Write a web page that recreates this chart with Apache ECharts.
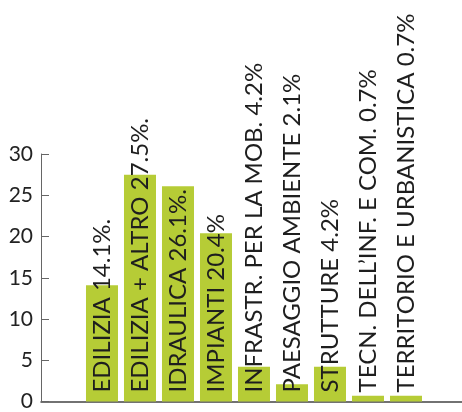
<!DOCTYPE html>
<html>
<head>
<meta charset="utf-8">
<script src="https://cdn.jsdelivr.net/npm/echarts@6/dist/echarts.min.js"></script>
<style>
    html, body { margin: 0; padding: 0; background: #fff; }
    #chart { width: 462px; height: 412px; }
</style>
</head>
<body>
<div id="chart"></div>
<script>
// categorie e valori (%)
const categories = ['EDILIZIA', 'EDILIZIA + ALTRO', 'IDRAULICA', 'IMPIANTI', 'INFRASTR. PER LA MOB.', 'PAESAGGIO AMBIENTE', 'STRUTTURE', 'TECN. DELL\u2019INF. E COM.', 'TERRITORIO E URBANISTICA'];
const values = [14.1, 27.5, 26.1, 20.4, 4.2, 2.1, 4.2, 0.7, 0.7];
// testo delle etichette come nel grafico originale
const labelTexts = ['EDILIZIA 14.1%.', 'EDILIZIA + ALTRO 27.5%.', 'IDRAULICA 26.1%.', 'IMPIANTI 20.4%', 'INFRASTR. PER LA MOB. 4.2%', 'PAESAGGIO AMBIENTE 2.1%', 'STRUTTURE 4.2%', 'TECN. DELL\u2019INF. E COM. 0.7%', 'TERRITORIO E URBANISTICA 0.7%'];
const yTicks = [0, 5, 10, 15, 20, 25, 30];

let myChart = echarts.init(document.getElementById('chart'));
myChart.setOption({
    animation: false,
    grid: {
        left: 41,
        right: 0,
        top: 154,
        bottom: 10,
        containLabel: false
    },
    xAxis: {
        type: 'value',
        min: -1.605,
        max: 9.474,
        axisLine: {
            show: true,
            onZero: false,
            lineStyle: { color: '#444', width: 1.5 }
        },
        axisTick: { show: false },
        axisLabel: { show: false },
        splitLine: { show: false }
    },
    yAxis: {
        type: 'value',
        min: yTicks[0],
        max: yTicks[yTicks.length - 1],
        interval: 5,
        axisLine: {
            show: true,
            onZero: false,
            lineStyle: { color: '#666', width: 1 }
        },
        axisTick: {
            show: true,
            inside: true,
            length: 8,
            lineStyle: { color: '#666' }
        },
        axisLabel: {
            color: '#222',
            fontFamily: 'Lato',
            fontSize: 21,
            margin: 8
        },
        splitLine: { show: false }
    },
    series: [{
        type: 'bar',
        barWidth: 32,
        itemStyle: { color: '#b6cc36' },
        data: values.map((v, i) => [i, v]),
        label: {
            show: true,
            position: 'insideBottom',
            distance: 9,
            rotate: 90,
            align: 'left',
            verticalAlign: 'middle',
            color: '#1e1e1e',
            fontFamily: 'Lato',
            fontSize: 24,
            formatter: (p) => labelTexts[p.dataIndex]
        }
    }]
});
</script>
</body>
</html>
